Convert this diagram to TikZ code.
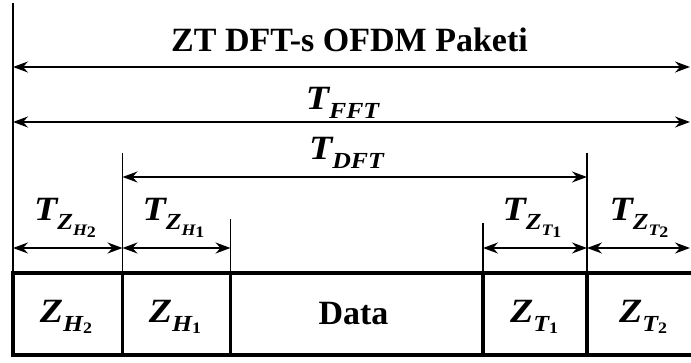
\documentclass[tikz,border=0pt]{standalone}
\usepackage{fontspec}
\setmainfont{Liberation Serif}
\newfontfamily\bifont{Liberation Serif}[FakeStretch=1.12]
\usetikzlibrary{arrows.meta}
\newcommand\BI[1]{{\bifont\bfseries\itshape #1}}
\newcommand\BD[1]{{\bifont\bfseries\upshape #1}}
\newcommand\lvA[1]{\raisebox{-9pt}{\fontsize{23}{23}\selectfont #1}}
\newcommand\lvB[1]{\raisebox{-6pt}{\fontsize{16}{16}\selectfont #1}}
\newcommand\dg[1]{\raisebox{-2pt}{\fontsize{16}{16}\selectfont\BD{#1}}}
\begin{document}
\begin{tikzpicture}[x=1pt,y=-1pt,
  every node/.style={inner sep=0pt,outer sep=0pt,font=\fontsize{34}{40}\selectfont},
  cell/.style={draw,line width=3.5pt,minimum height=82pt},
  thin/.style={line width=1.6pt},
  dim/.style={line width=1.6pt,{Stealth[length=15pt,width=11pt,inset=5pt]}-{Stealth[length=15pt,width=11pt,inset=5pt]}},
  lab/.style={anchor=base}]
\clip (0,0) rectangle (691,363);
% cells
\node[cell,minimum width=109.5pt] (ZH2) at (67.75,314) {};
\node[cell,minimum width=108pt] (ZH1) at (176.5,314) {};
\node[cell,minimum width=252.5pt] (DAT) at (356.75,314) {};
\node[cell,minimum width=104pt] (ZT1) at (535,314) {};
\node[cell,minimum width=112pt] (ZT2) at (643,314) {};
% cell labels
\node[lab] (lZH2) at (66,323) {\BI{Z}\lvA{\BI{H}\dg{2}}};
\node[lab] (lZH1) at (175,323) {\BI{Z}\lvA{\BI{H}\dg{1}}};
\node[lab] (lDAT) at (353.5,325) {\bfseries Data};
\node[lab] (lZT1) at (534,323) {\BI{Z}\lvA{\BI{T}\dg{1}}};
\node[lab] (lZT2) at (643,323) {\BI{Z}\lvA{\BI{T}\dg{2}}};
% vertical extension lines
\coordinate (v0) at (13,3);
\coordinate (v1) at (122.5,153);
\coordinate (v2) at (230.5,219);
\coordinate (v3) at (483,223);
\coordinate (v4) at (587,153);
\draw[thin] (v0) -- (ZH2.north west);
\draw[thin] (v1) -- (ZH2.north east);
\draw[thin] (v2) -- (ZH1.north east);
\draw[thin] (v3) -- (ZT1.north west);
\draw[thin] (v4) -- (ZT1.north east);
% dimension arrows
\coordinate (a1l) at (13,67);   \coordinate (a1r) at (690,67);
\coordinate (a2l) at (13,122);  \coordinate (a2r) at (690,122);
\coordinate (a3l) at (122.5,177); \coordinate (a3r) at (587,177);
\coordinate (b0) at (13,248); \coordinate (b1) at (122.5,248);
\coordinate (b2) at (230.5,248); \coordinate (b3) at (483,248);
\coordinate (b4) at (587,248); \coordinate (b5) at (690,248);
\draw[dim] (a1l) -- (a1r);
\draw[dim] (a2l) -- (a2r);
\draw[dim] (a3l) -- (a3r);
\draw[dim] (b0) -- (b1);
\draw[dim] (b1) -- (b2);
\draw[dim] (b3) -- (b4);
\draw[dim] (b4) -- (b5);
% labels
\node[lab] (title) at (349.5,52) {\bfseries ZT DFT-s OFDM Paketi};
\node[lab] (tfft) at (342.5,110) {\BI{T}\lvA{\BI{FFT}}};
\node[lab] (tdft) at (346.5,160) {\BI{T}\lvA{\BI{DFT}}};
\node[lab] (tzh2) at (65,221) {\BI{T}\lvA{\BI{Z}\lvB{\BI{H}\dg{2}}}};
\node[lab] (tzh1) at (173.5,221) {\BI{T}\lvA{\BI{Z}\lvB{\BI{H}\dg{1}}}};
\node[lab] (tzt1) at (532,221) {\BI{T}\lvA{\BI{Z}\lvB{\BI{T}\dg{1}}}};
\node[lab] (tzt2) at (639,221) {\BI{T}\lvA{\BI{Z}\lvB{\BI{T}\dg{2}}}};
\end{tikzpicture}
\end{document}
